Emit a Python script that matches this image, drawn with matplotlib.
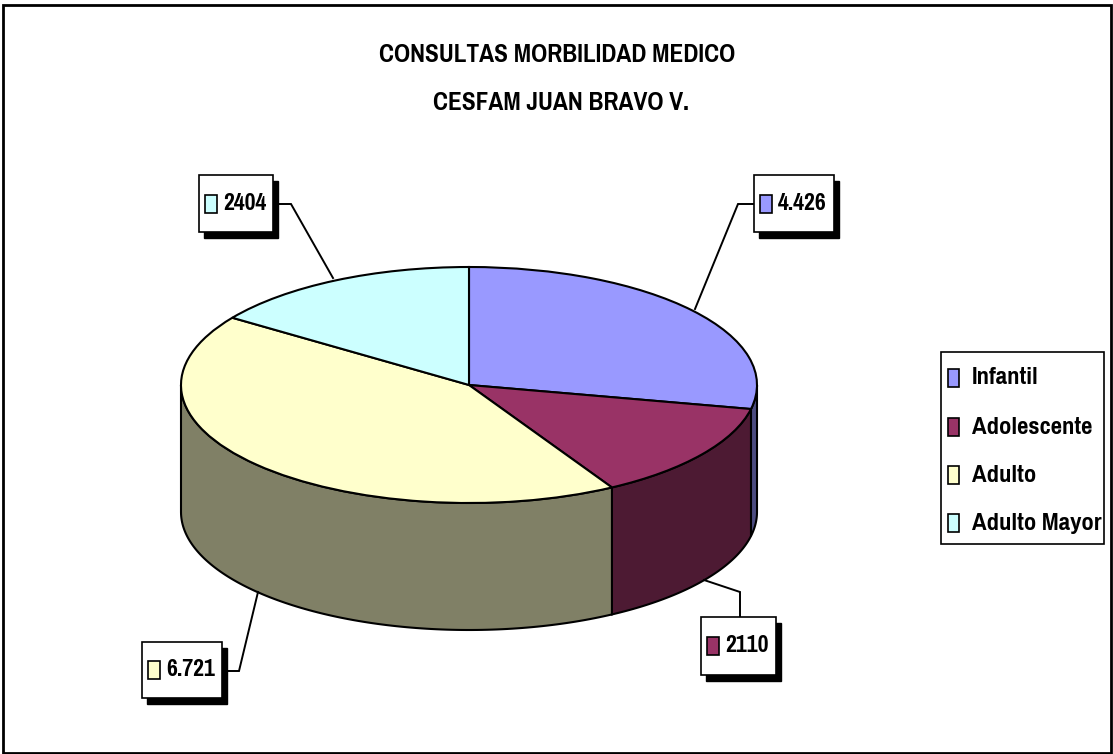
import numpy as np
import matplotlib
matplotlib.use('Agg')
import matplotlib.pyplot as plt
from matplotlib.patches import Rectangle
from matplotlib import font_manager

# data from the chart
categories = ['Infantil', 'Adolescente', 'Adulto', 'Adulto Mayor']
values = [4426, 2110, 6721, 2404]
value_labels = ['4.426', '2110', '6.721', '2404']
title_lines = ['CONSULTAS MORBILIDAD MEDICO', 'CESFAM JUAN BRAVO V.']
colors = ['#9999FF', '#993366', '#FFFFCC', '#CCFFFF']
side_colors = ['#4C4C80', '#4D1A33', '#808066', '#668080']

# narrow bold font if it is there, otherwise smaller Liberation Sans
names = [f.name for f in font_manager.fontManager.ttflist]
if 'Pragati Narrow' in names:
    fam, fs = 'Pragati Narrow', 1.0
else:
    fam, fs = 'Liberation Sans', 0.86

W, H = 1113, 754
cx, cy, rx, ry, depth = 469, 385, 288, 118, 127

fig = plt.figure(figsize=(W / 100, H / 100), dpi=100, facecolor='white')

# pie axes: unit circle squashed to ellipse
ax_pie = fig.add_axes([0, 0, 1, 1])
d = depth / ry
fracs = np.cumsum([0] + values) / sum(values) * 360
for i in range(len(values)):
    a = max(fracs[i], 90)
    b = min(fracs[i + 1], 270)
    if b <= a:
        continue
    t = np.radians(np.linspace(a, b, 120))
    xs = np.sin(t)
    ys = np.cos(t)
    ax_pie.fill(np.r_[xs, xs[::-1]], np.r_[ys, ys[::-1] - d],
                facecolor=side_colors[i], edgecolor='black', lw=1.5, zorder=1)
ax_pie.pie(values, colors=colors, startangle=90, counterclock=False, radius=1,
           wedgeprops={'edgecolor': 'black', 'linewidth': 1.5, 'zorder': 2})
ax_pie.set_aspect('auto')
ax_pie.set_xlim((0 - cx) / rx, (W - cx) / rx)
ax_pie.set_ylim((cy - H) / ry, cy / ry)
ax_pie.axis('off')

# overlay in pixels for title, labels, legend
ax = fig.add_axes([0, 0, 1, 1], facecolor='none')
ax.set_xlim(0, W)
ax.set_ylim(H, 0)
ax.axis('off')

# outer frame
ax.add_patch(Rectangle((3, 5), W - 5, H - 6, fill=False, ec='black', lw=2, zorder=1))

ax.text(557, 54, title_lines[0], family=fam, weight='bold', fontsize=19.8 * fs,
        ha='center', va='center')
ax.text(561, 102, title_lines[1], family=fam, weight='bold', fontsize=19.8 * fs,
        ha='center', va='center')

# label boxes: x0, y0, x1, y1, leader points
boxes = [
    (754, 175, 834, 232, [(755, 204), (738, 204), (695, 309)]),
    (701, 617, 776, 675, [(740, 617), (740, 592), (704, 580)]),
    (142, 642, 222, 698, [(226, 671), (239, 671), (258, 592)]),
    (199, 175, 273, 232, [(277, 204), (291, 204), (333, 278)]),
]
for i, (x0, y0, x1, y1, pts) in enumerate(boxes):
    px, py = zip(*pts)
    ax.plot(px, py, color='black', lw=1.4, zorder=3, solid_joinstyle='miter')
    ax.add_patch(Rectangle((x0 + 5, y0 + 6), x1 - x0, y1 - y0, fc='black', ec='black', zorder=4))
    ax.add_patch(Rectangle((x0, y0), x1 - x0, y1 - y0, fc='white', ec='black', lw=1.2, zorder=5))
    ym = (y0 + y1) / 2
    ax.add_patch(Rectangle((x0 + 5.5, ym - 9), 12, 18, fc=colors[i], ec='black', lw=1.2, zorder=6))
    ax.text(x0 + 24, ym, value_labels[i], family=fam, weight='bold', fontsize=18.6 * fs,
            ha='left', va='center', zorder=6)

# legend
ax.add_patch(Rectangle((941, 352), 163, 192, fc='white', ec='black', lw=1.2, zorder=4))
rows = [378, 427, 475, 523]
for i, name in enumerate(categories):
    ax.add_patch(Rectangle((947.5, rows[i] - 9.5), 11.5, 18, fc=colors[i], ec='black', lw=1.2, zorder=5))
    ax.text(972, rows[i], name, family=fam, weight='bold', fontsize=19.3 * fs,
            ha='left', va='center', zorder=5)

fig.savefig('out.png', dpi=100)
